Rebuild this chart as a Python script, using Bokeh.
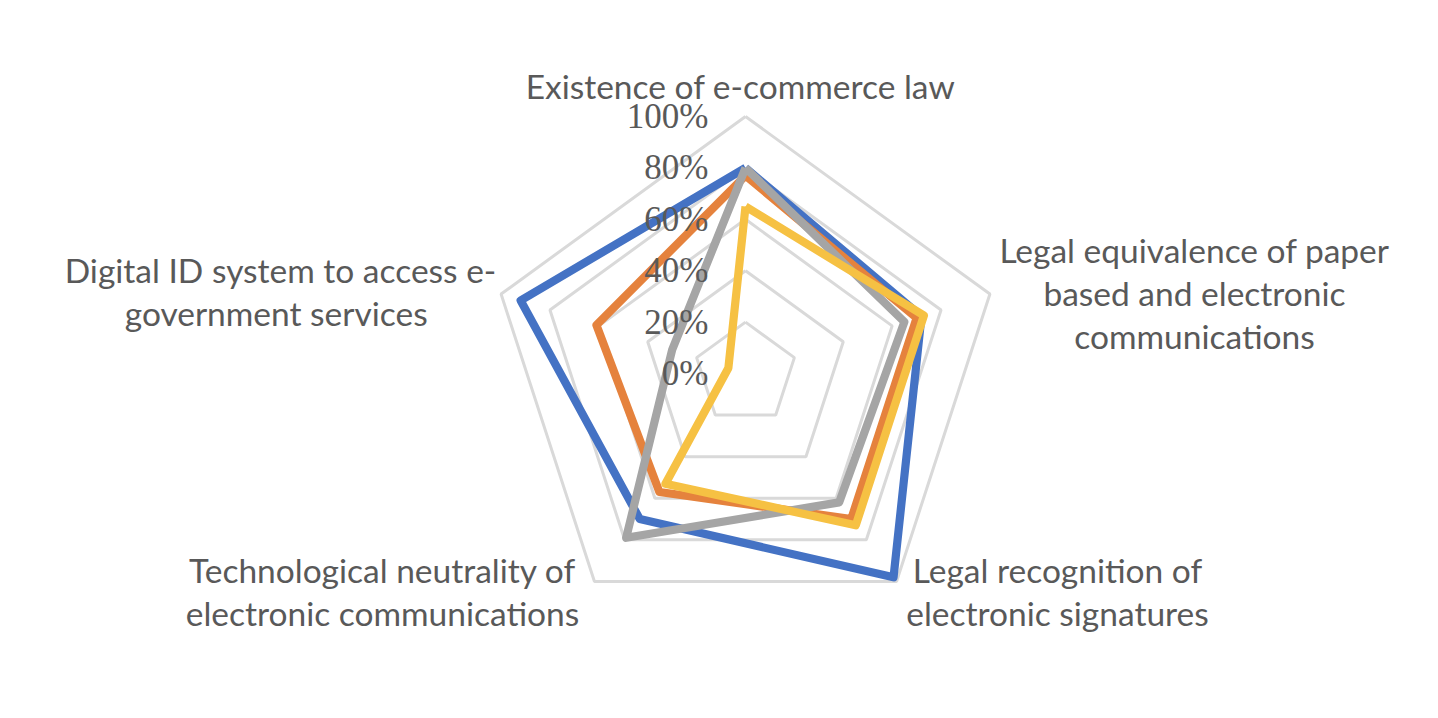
import numpy as np
from bokeh.plotting import figure
from bokeh.models import Range1d
from bokeh.core.properties import value
from bokeh.embed import file_html
from bokeh.resources import INLINE

# ---------------- data ----------------
categories = [
    "Existence of e-commerce law",
    "Legal equivalence of paper\nbased and electronic\ncommunications",
    "Legal recognition of\nelectronic signatures",
    "Technological neutrality of\nelectronic communications",
    "Digital ID system to access e-\ngovernment  services",
]
tick_values = [0, 20, 40, 60, 80, 100]
tick_labels = ["0%", "20%", "40%", "60%", "80%", "100%"]

series_blue = [80, 72, 98, 70, 92]
series_orange = [77, 70, 70, 57, 61]
series_gray = [80, 65, 62, 79, 30]
series_yellow = [65, 73, 73, 53, 7]

series = [series_blue, series_orange, series_gray, series_yellow]
colors = ["#4472C4", "#E5823D", "#A5A5A5", "#F6C143"]

# ---------------- layout ----------------
W, H = 1422, 702
K = 2.57               # px per percent
CX, CY = 745, 373      # centre in figure px (from top-left)
# label block centres as px offsets from the chart centre (x right, y up)
label_offsets = [(-5, 288), (449, 81), (312, -218), (-363, -218), (-465, 82)]
LINE_GAP = 43

p = figure(width=W, height=H, output_backend="svg", toolbar_location=None,
           x_range=Range1d(-CX / K, (W - CX) / K),
           y_range=Range1d(-(H - CY) / K, CY / K),
           min_border=0)
p.axis.visible = False
p.grid.visible = False
p.outline_line_color = None
p.background_fill_color = "white"

n = len(categories)
theta = np.pi / 2 - np.arange(n) * 2 * np.pi / n

# grid rings
for t in tick_values[1:]:
    xs = list(t * np.cos(theta)) + [t * np.cos(theta[0])]
    ys = list(t * np.sin(theta)) + [t * np.sin(theta[0])]
    p.line(xs, ys, line_color="#D9D9D9", line_width=3)

# series
for vals, col in zip(series, colors):
    v = np.array(vals, dtype=float)
    xs = list(v * np.cos(theta)) + [v[0] * np.cos(theta[0])]
    ys = list(v * np.sin(theta)) + [v[0] * np.sin(theta[0])]
    p.line(xs, ys, line_color=col, line_width=8.2, line_join="round")

# tick labels
p.text(x=[-37 / K] * len(tick_values), y=tick_values, text=tick_labels,
       text_font=value("Liberation Serif"), text_font_size="35px",
       text_color="#595959", text_align="right", text_baseline="middle")

# category labels
lx, ly, lt = [], [], []
for cat, (ox, oy) in zip(categories, label_offsets):
    lines = cat.split("\n")
    m = len(lines)
    for j, line in enumerate(lines):
        lx.append(ox / K)
        ly.append((oy + ((m - 1) / 2 - j) * LINE_GAP) / K)
        lt.append(line)
p.text(x=lx, y=ly, text=lt, text_font=value("Lato"), text_font_size="33.5px",
       text_color="#595959", text_align="center", text_baseline="middle")

open("out.html", "w").write(file_html(p, INLINE))
